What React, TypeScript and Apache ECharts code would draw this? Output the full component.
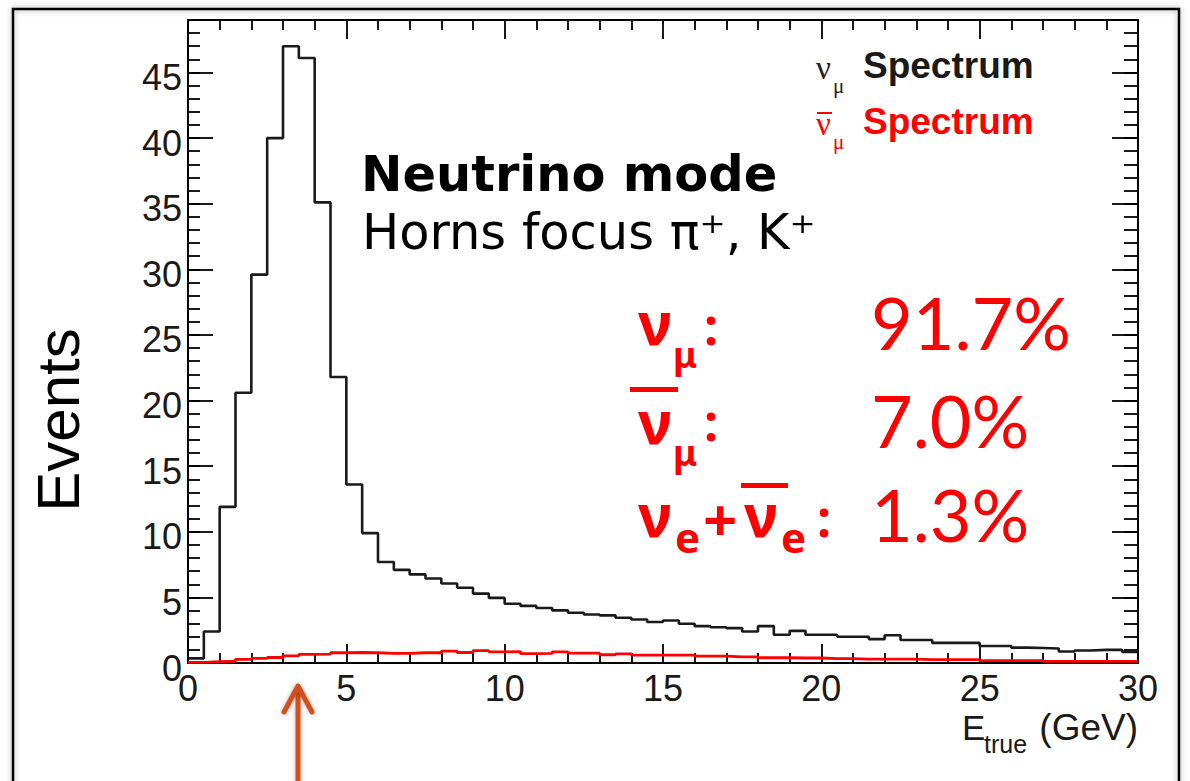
import React, { useEffect, useRef } from "react";
import * as echarts from "echarts";

// ---- data ----
const BIN_WIDTH = 0.5; // GeV
const numuEvents = [
  0.35, 2.4, 11.9, 20.6, 29.6, 40.0, 47.0, 46.1, 35.1, 21.8,
  13.6, 9.9, 7.7, 7.1, 6.75, 6.44, 6.06, 5.73, 5.29, 4.96,
  4.52, 4.35, 4.19, 4.01, 3.83, 3.7, 3.63, 3.45, 3.32, 3.12,
  3.24, 2.99, 2.81, 2.73, 2.66, 2.4, 2.81, 2.15, 2.45, 2.15,
  2.15, 2.0, 2.0, 1.82, 2.12, 1.75, 1.75, 1.53, 1.53, 1.53,
  1.3, 1.3, 1.17, 1.14, 1.1, 0.88, 0.95, 1.0, 1.0, 0.85,
];
const numubarEvents = [
  0.05, 0.1, 0.15, 0.28, 0.35, 0.42, 0.55, 0.65, 0.68, 0.78,
  0.8, 0.78, 0.74, 0.74, 0.78, 0.78, 0.9, 0.8, 0.95, 0.85,
  0.87, 0.72, 0.73, 0.85, 0.75, 0.75, 0.63, 0.7, 0.6, 0.6,
  0.6, 0.6, 0.52, 0.52, 0.47, 0.47, 0.4, 0.4, 0.38, 0.38,
  0.33, 0.33, 0.3, 0.3, 0.3, 0.3, 0.25, 0.25, 0.25, 0.25,
  0.18, 0.18, 0.18, 0.18, 0.12, 0.12, 0.12, 0.12, 0.12, 0.12,
];
const xRange = [0, 30];
const yRange = [0, 49];
const fractions = ["91.7%", "7.0%", "1.3%"];

const binEdges = numuEvents.map((_, i) => i * BIN_WIDTH);
function toSteps(vals: number[]) {
  const pts = vals.map((v, i) => [binEdges[i], v]);
  pts.push([xRange[1], vals[vals.length - 1]]);
  return pts;
}

const RED = "#ff0000";
const ARROW = "#d5501d";
const LABEL_FONT = "'Liberation Sans', Arial, Helvetica, sans-serif";

function valueAxisX(position: "bottom" | "top", showLabels: boolean) {
  return {
    type: "value",
    position,
    min: xRange[0],
    max: xRange[1],
    interval: 5,
    axisLine: { show: true, onZero: false, lineStyle: { color: "#000", width: 2 } },
    axisTick: { show: true, inside: true, length: 19, lineStyle: { color: "#000", width: 1.8 } },
    minorTick: { show: true, splitNumber: 5, length: 10, lineStyle: { color: "#000", width: 1.8 } },
    splitLine: { show: false },
    minorSplitLine: { show: false },
    axisLabel: {
      show: showLabels,
      fontFamily: LABEL_FONT,
      fontSize: 36,
      color: "#1a1a1a",
      margin: 7,
    },
  };
}

function valueAxisY(position: "left" | "right", interval: number, tickLen: number, showLabels: boolean, showLine: boolean) {
  return {
    type: "value",
    position,
    min: yRange[0],
    max: yRange[1],
    interval,
    axisLine: { show: showLine, onZero: false, lineStyle: { color: "#000", width: 2 } },
    axisTick: { show: true, inside: true, length: tickLen, lineStyle: { color: "#000", width: 1.8 } },
    splitLine: { show: false },
    axisLabel: {
      show: showLabels,
      fontFamily: LABEL_FONT,
      fontSize: 36,
      color: "#1a1a1a",
      margin: 6,
      verticalAlign: "top",
      lineHeight: 10,
      formatter: (v: number) => (v % 5 === 0 ? String(v) : ""),
    },
  };
}

function txt(text: string, x: number, y: number, style: any, extra: any = {}) {
  return {
    type: "text",
    x,
    y,
    silent: true,
    ...extra,
    style: { text, align: "left", verticalAlign: "middle", ...style },
  };
}

export default function App() {
  const ref = useRef<HTMLDivElement>(null);
  useEffect(() => {
    document.body.style.margin = "0";
    if (!ref.current) return;
    const chart = echarts.init(ref.current, undefined, { renderer: "svg" });

    const greekBold = { fontFamily: "'Noto Sans', 'DejaVu Sans', sans-serif", fontWeight: "bold", fill: RED };
    const numFont = { fontFamily: "Lato, 'Open Sans', sans-serif", fontSize: 72, fill: RED };

    const graphic: any[] = [
      {
        type: "rect",
        silent: true,
        shape: { x: 13, y: 9, width: 1166, height: 800 },
        style: { fill: "none", stroke: "#000", lineWidth: 2.5, shadowBlur: 6, shadowColor: "rgba(0,0,0,0.35)" },
        z: 1,
      },
      // y axis title
      txt("Events", 58, 420, { fontFamily: LABEL_FONT, fontSize: 60, fill: "#000", align: "center" }, { rotation: Math.PI / 2 }),
      // x axis title
      txt("E", 962, 727, { fontFamily: LABEL_FONT, fontSize: 35, fill: "#1a1a1a" }),
      txt("true", 984, 744, { fontFamily: LABEL_FONT, fontSize: 25, fill: "#1a1a1a" }),
      txt("(GeV)", 1138, 727, { fontFamily: LABEL_FONT, fontSize: 37, fill: "#1a1a1a", align: "right" }),
      // legend-like labels
      txt("ν", 816, 68, { fontFamily: "'Liberation Serif', 'DejaVu Serif', serif", fontSize: 33, fill: "#222" }),
      txt("μ", 833, 86, { fontFamily: "'Liberation Serif', 'DejaVu Serif', serif", fontSize: 21, fill: "#222" }),
      txt("Spectrum", 863, 65, { fontFamily: LABEL_FONT, fontSize: 37, fontWeight: "bold", fill: "#1a1a1a" }),
      { type: "line", silent: true, shape: { x1: 817, y1: 113, x2: 832, y2: 113 }, style: { stroke: RED, lineWidth: 2 } },
      txt("ν", 816, 124, { fontFamily: "'Liberation Serif', 'DejaVu Serif', serif", fontSize: 33, fill: RED }),
      txt("μ", 833, 142, { fontFamily: "'Liberation Serif', 'DejaVu Serif', serif", fontSize: 21, fill: RED }),
      txt("Spectrum", 863, 121, { fontFamily: LABEL_FONT, fontSize: 37, fontWeight: "bold", fill: RED }),
      // mode text
      txt("Neutrino mode", 361, 174, { fontFamily: "'DejaVu Sans', Verdana, sans-serif", fontSize: 49.5, fontWeight: "bold", fill: "#000" }),
      txt("Horns focus π⁺, K⁺", 362, 232, { fontFamily: "'DejaVu Sans', Verdana, sans-serif", fontSize: 49.5, fill: "#000" }),
      // flavour fractions
      txt("ν", 638, 322, { ...greekBold, fontSize: 60 }),
      txt("μ", 673, 354, { ...greekBold, fontSize: 36 }),
      txt(":", 704, 326, { ...greekBold, fontSize: 50 }),
      txt(fractions[0], 871, 322, numFont),
      { type: "rect", silent: true, shape: { x: 630, y: 387, width: 48, height: 5 }, style: { fill: RED } },
      txt("ν", 638, 421, { ...greekBold, fontSize: 60 }),
      txt("μ", 673, 452, { ...greekBold, fontSize: 36 }),
      txt(":", 704, 422, { ...greekBold, fontSize: 50 }),
      txt(fractions[1], 871, 420, numFont),
      txt("ν", 638, 514, { ...greekBold, fontSize: 60 }),
      txt("e", 675, 536, { ...greekBold, fontSize: 42 }),
      txt("+", 703, 519, { ...greekBold, fontSize: 60 }),
      { type: "rect", silent: true, shape: { x: 741, y: 483, width: 47, height: 5 }, style: { fill: RED } },
      txt("ν", 744, 514, { ...greekBold, fontSize: 60 }),
      txt("e", 781, 536, { ...greekBold, fontSize: 42 }),
      txt(":", 817, 518, { ...greekBold, fontSize: 50 }),
      txt(fractions[2], 871, 514, numFont),
      // arrow
      { type: "rect", silent: true, shape: { x: 295.5, y: 690, width: 5, height: 110, r: 2.5 }, style: { fill: ARROW, shadowBlur: 4, shadowColor: "rgba(0,0,0,0.3)" } },
      {
        type: "polyline",
        silent: true,
        shape: { points: [[284, 712], [298, 686], [312, 712]] },
        style: { stroke: ARROW, fill: "none", lineWidth: 5, lineCap: "round", lineJoin: "round", shadowBlur: 4, shadowColor: "rgba(0,0,0,0.3)" },
      },
    ];

    chart.setOption({
      animation: false,
      backgroundColor: "#fff",
      grid: { left: 188, right: 52, top: 20, bottom: 118, containLabel: false },
      xAxis: [valueAxisX("bottom", true), valueAxisX("top", false)],
      yAxis: [
        valueAxisY("left", 5, 25, true, true),
        valueAxisY("left", 1, 12, false, false),
        valueAxisY("right", 5, 26, false, true),
        valueAxisY("right", 1, 14, false, false),
      ],
      series: [
        {
          name: "numu",
          type: "line",
          step: "end",
          xAxisIndex: 0,
          yAxisIndex: 0,
          showSymbol: false,
          symbol: "none",
          data: toSteps(numuEvents),
          lineStyle: { color: "#1a1a1a", width: 2.6 },
          z: 3,
        },
        {
          name: "numubar",
          type: "line",
          step: "end",
          xAxisIndex: 0,
          yAxisIndex: 0,
          showSymbol: false,
          symbol: "none",
          data: toSteps(numubarEvents),
          lineStyle: { color: RED, width: 2.8 },
          z: 4,
        },
      ],
      graphic,
    });
    return () => chart.dispose();
  }, []);
  return <div ref={ref} style={{ width: 1190, height: 781 }} />;
}
